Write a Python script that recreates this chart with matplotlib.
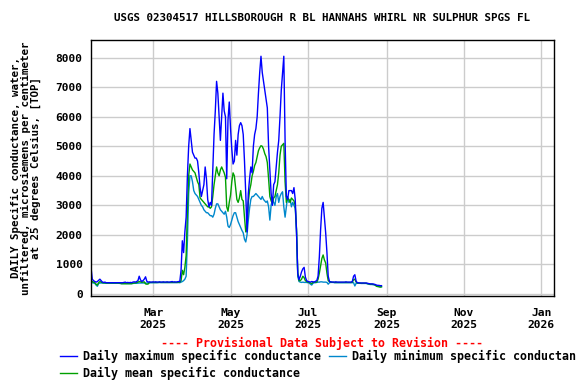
import matplotlib
matplotlib.use('Agg')
import matplotlib.pyplot as plt
import matplotlib.dates as mdates
import pandas as pd

# daily values, starting 2025-01-11
start_day = '2025-01-11'

daily_max = [
    900, 500, 450, 420, 400, 420, 460, 500, 450, 400,
    390, 400, 380, 380, 380, 380, 380, 380, 380, 380,
    380, 380, 380, 380, 380, 380, 390, 400, 380, 390,
    380, 390, 380, 400, 410, 400, 420, 450, 600, 480,
    420, 450, 500, 580, 430, 400, 410, 400, 400, 410,
    400, 410, 400, 400, 410, 400, 400, 410, 400, 400,
    410, 400, 400, 410, 420, 400, 410, 400, 410, 420,
    420, 800, 1800, 1400, 2100, 2600, 4000, 5000, 5600, 5200,
    4800, 4700, 4600, 4600, 4500, 4100, 3600, 3300, 3500, 3700,
    4300, 3900, 3200, 2950, 3100, 3000, 4200, 5400, 6200, 7200,
    6800, 6000, 5200, 6000, 6800, 6200, 6000, 3900, 5900, 6500,
    5600, 4900, 4400, 4500, 5200, 4700, 5400, 5700, 5800, 5700,
    5400, 4500, 3400, 2100, 3400, 3900, 4300, 4100, 5000, 5400,
    5600, 6000, 6800, 7500, 8050, 7500, 7200, 6900, 6600, 6300,
    5000, 4200, 3400, 3000, 3700, 3800, 4300, 4800, 5200, 6000,
    6900, 7500, 8050, 5200, 3300, 3200, 3500, 3500, 3500, 3400,
    3600, 3200, 2100, 700, 480, 600, 750, 850, 900, 570,
    450, 420, 410, 400, 420, 410, 400, 430, 450, 600,
    1250, 2170, 2900, 3100, 2600, 2070, 1400, 600, 420, 410,
    400, 400, 400, 410, 400, 400, 400, 400, 400, 400,
    400, 410, 400, 400, 400, 400, 420, 600, 650, 430,
    380, 375, 370, 370, 370, 370, 370, 370, 360, 350,
    340, 340, 340, 330, 320, 300, 290, 290, 280, 280,
]

daily_min = [
    400, 380, 370, 360, 300, 260, 350, 370, 370, 370,
    365, 365, 360, 360, 360, 360, 360, 360, 360, 360,
    360, 360, 360, 355, 355, 355, 355, 355, 355, 355,
    355, 355, 355, 355, 360, 360, 360, 365, 370, 370,
    370, 370, 370, 370, 365, 370, 375, 380, 380, 380,
    380, 380, 380, 385, 385, 385, 385, 385, 385, 385,
    385, 385, 385, 385, 385, 385, 385, 385, 385, 385,
    380, 400, 420, 450, 500, 600, 1800, 3400, 4000, 4000,
    3800, 3500, 3400, 3350, 3300, 3200, 3100, 3000, 2950, 2850,
    2800, 2750, 2750, 2700, 2650, 2650, 2600, 2700, 2900, 3050,
    3050, 2950, 2850, 2800, 2750, 2700, 2800, 2600, 2300, 2250,
    2350, 2500, 2650, 2750, 2750, 2600, 2450, 2350, 2250, 2150,
    2070, 1850, 1760, 2000, 2500, 2900, 3200, 3300, 3300, 3350,
    3400, 3350, 3300, 3250, 3200, 3300, 3200, 3150, 3100, 3150,
    2950, 2500, 3000, 3200, 3100, 3000, 3300, 3400, 3100, 3300,
    3400, 3460, 2950, 2600, 2950, 3300, 3100, 3200, 2950, 3100,
    3000, 2900, 2170, 600, 420, 400, 390, 400, 390, 390,
    390, 380, 370, 330, 300, 360, 380, 380, 390, 400,
    400, 410, 410, 400, 400, 400, 390, 330, 380, 390,
    390, 390, 380, 380, 380, 380, 380, 380, 380, 380,
    380, 380, 380, 380, 380, 380, 380, 380, 270, 360,
    360, 360, 360, 355, 355, 355, 355, 355, 340, 330,
    320, 320, 315, 310, 300, 280, 270, 260, 255, 250,
]

daily_mean = [
    450, 420, 400, 380, 330, 300, 380, 420, 400, 380,
    375, 375, 370, 370, 370, 370, 370, 370, 370, 370,
    370, 370, 365, 360, 345, 345, 345, 345, 345, 345,
    345, 345, 345, 360, 370, 375, 385, 400, 420, 410,
    395, 400, 410, 340, 330, 335, 390, 390, 390, 390,
    390, 390, 390, 390, 395, 390, 390, 390, 390, 390,
    390, 390, 390, 390, 390, 390, 390, 390, 390, 395,
    400, 450, 800, 650, 900, 1300, 2800, 4000, 4400, 4300,
    4200, 4150, 4100, 3950, 3800, 3700, 3250, 3200, 3150, 3100,
    3050, 3000, 2950, 2950, 2900, 2950, 3300, 3700, 4000, 4300,
    4100, 4000, 4200, 4300, 4200, 4100, 3950, 2950, 2800, 3100,
    3350, 3800, 4100, 4000, 3600, 3200, 3100, 3250, 3500, 3200,
    3150, 2600, 2100, 2250, 3100, 3500, 3700, 4000, 4150, 4350,
    4450, 4650, 4850, 4950, 5020, 5000, 4900, 4750, 4650, 4450,
    3900, 3300, 3150, 3080, 3250, 3300, 3500, 3700, 4100, 4700,
    5000, 5050, 5100, 3800, 3100, 3250, 3200, 3100, 3250, 3200,
    3150, 3000, 2200, 700, 450, 450, 500, 600, 550, 450,
    420, 400, 390, 370, 350, 390, 400, 400, 400, 500,
    700, 950, 1200, 1320, 1150, 1050, 700, 450, 420, 400,
    395, 395, 390, 390, 390, 390, 390, 390, 390, 390,
    390, 390, 390, 390, 390, 390, 400, 480, 500, 400,
    370, 365, 365, 360, 360, 360, 360, 360, 350, 340,
    330, 330, 325, 320, 300, 260, 250, 240, 230, 240,
]

title = 'USGS 02304517 HILLSBOROUGH R BL HANNAHS WHIRL NR SULPHUR SPGS FL'
ylabel = ('DAILY Specific conductance, water,\n'
          'unfiltered, microsiemens per centimeter\n'
          'at 25 degrees Celsius, [TOP]')
yticks = [0, 1000, 2000, 3000, 4000, 5000, 6000, 7000, 8000]

plt.rcParams['font.family'] = ['DejaVu Sans Mono']
plt.rcParams['font.weight'] = 'bold'
plt.rcParams['font.size'] = 8

days = pd.date_range(start_day, periods=len(daily_max))

fig = plt.figure(figsize=(5.76, 3.84), dpi=100)
ax = fig.add_axes([91 / 576, 1 - 296 / 384, 463 / 576, 256 / 384])

l_max, = ax.plot(days, daily_max, color='#0000ff', lw=1,
                 label='Daily maximum specific conductance')
l_min, = ax.plot(days, daily_min, color='#0088cc', lw=1,
                 label='Daily minimum specific conductance')
l_mean, = ax.plot(days, daily_mean, color='#00a000', lw=1,
                  label='Daily mean specific conductance')
# max on top of the others
l_max.set_zorder(2.2)
l_mean.set_zorder(2.1)

ax.set_xlim(pd.Timestamp('2025-01-11'), pd.Timestamp('2026-01-11'))
ax.set_ylim(-70, 8600)
ax.set_yticks(yticks)
ax.xaxis.set_major_locator(mdates.MonthLocator(bymonth=[1, 3, 5, 7, 9, 11]))
ax.xaxis.set_major_formatter(mdates.DateFormatter('%b\n%Y'))
ax.tick_params(length=0, labelsize=8.1)
ax.tick_params(axis='x', pad=9)
ax.tick_params(axis='y', pad=6)
ax.grid(True, color='#cccccc', lw=1)
ax.set_axisbelow(True)
for s in ax.spines.values():
    s.set_linewidth(1)

ax.set_title(title, fontsize=7.8, fontweight='bold', pad=14)
fig.text(0.045, 1 - 168 / 384, ylabel, rotation=90,
         ha='center', va='center', fontsize=7.8, multialignment='center',
         linespacing=1.0)

fig.text(322 / 576, 1 - 343 / 384, '---- Provisional Data Subject to Revision ----',
         color='red', ha='center', va='center', fontsize=8.4)

fig.legend(handles=[l_max, l_mean, l_min], ncol=2, frameon=False,
           loc='upper left', bbox_to_anchor=(60 / 576, 1 - 350 / 384),
           borderpad=0, borderaxespad=0, handlelength=1.45,
           handletextpad=0.5, columnspacing=0.7, labelspacing=0.3,
           fontsize=8.4)

fig.savefig('out.png', dpi=100)
